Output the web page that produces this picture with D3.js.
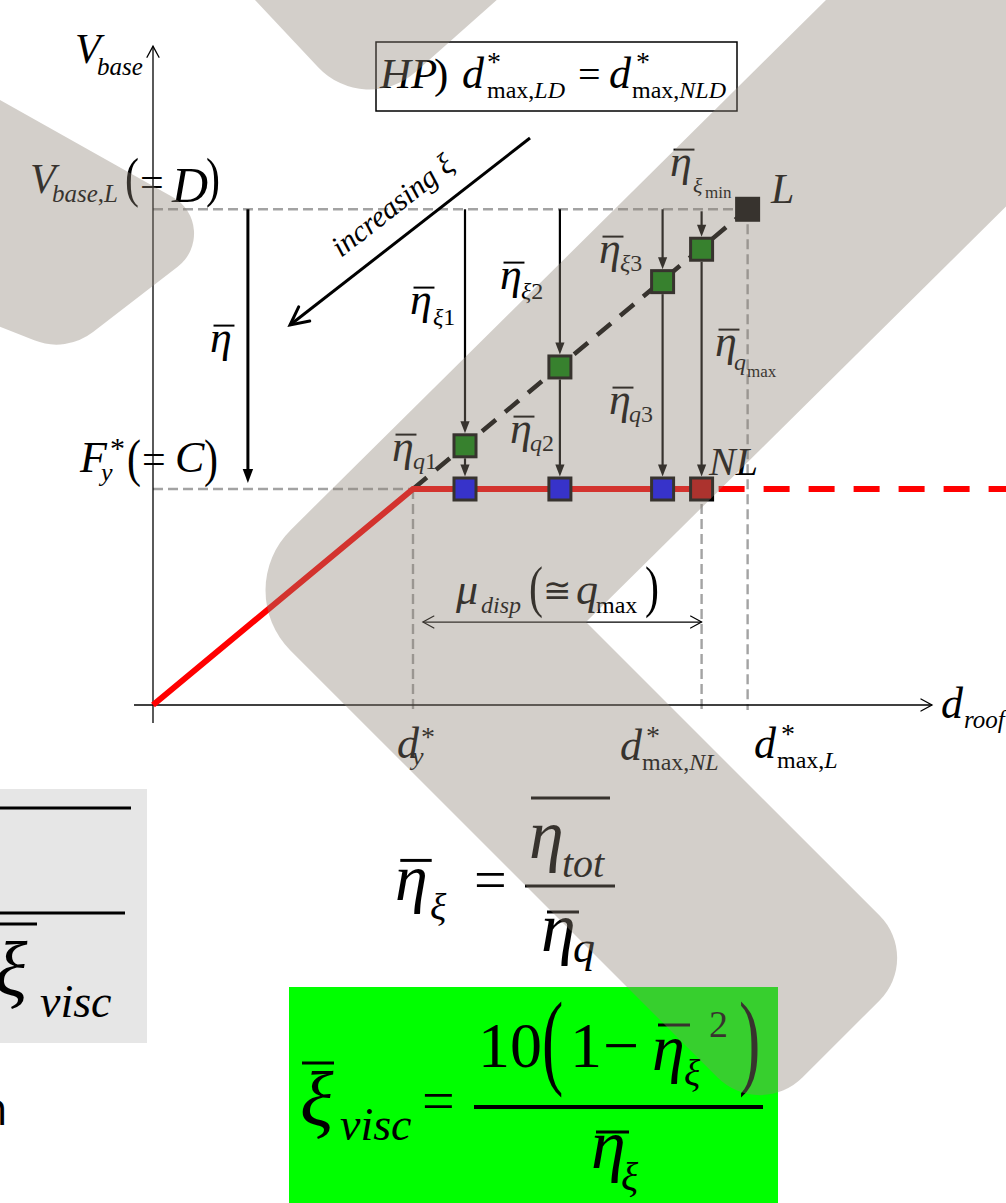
<!DOCTYPE html>
<html>
<head>
<meta charset="utf-8">
<script src="https://cdn.jsdelivr.net/npm/d3@7"></script>
<style>
  html, body { margin: 0; padding: 0; background: #fff; overflow: hidden; }
  svg { display: block; }
</style>
</head>
<body>
<svg id="fig" width="1006" height="1203"></svg>
<script>
// ---------------------------------------------------------------
// Capacity curve (displacement and base shear normalised by yield)
// ---------------------------------------------------------------
const capacityCurve = [[0, 0], [1, 1], [2.11, 1]];   // bilinear: elastic + plateau up to NL
const capacityTail  = [[2.11, 1], [3.3, 1]];          // plateau beyond NL (dashed)
const elasticBranch = [[1, 1], [2.287, 2.295]];       // elastic extension up to L (dashed)
const dampedDisp    = [1.2, 1.565, 1.96, 2.11];       // ξ1, ξ2, ξ3, ξmin points on elastic branch
const ductileDisp   = [1.2, 1.565, 1.96];             // q1, q2, q3 points on the plateau
const pointNL       = [2.11, 1];
const pointL        = [2.287, 2.295];
const etaArrowDisp  = 0.365;                          // position of the global η̄ arrow
const axisXExtent   = [-0.073, 2.996];
const axisYExtent   = [-0.083, 3.05];
const guideBottom   = -0.023;
const ductilitySpan = [1.038, 2.11];                  // μ_disp dimension line
const ductilityLevel = 0.384;
const trendArrow    = [[1.45, 2.625], [0.527, 1.759]]; // "increasing ξ" arrow

const SERIF = "'Liberation Serif','Times New Roman',serif";

const svg = d3.select("#fig");
const x = d3.scaleLinear().domain([0, 1]).range([153, 413]);
const y = d3.scaleLinear().domain([0, 1]).range([705, 489]);

// ---------------- markers ----------------
const defs = svg.append("defs");
function marker(id, d, filled, sw, orient) {
  defs.append("marker")
    .attr("id", id)
    .attr("viewBox", "-30 -15 45 30")
    .attr("refX", 0).attr("refY", 0)
    .attr("markerWidth", 45).attr("markerHeight", 30)
    .attr("markerUnits", "userSpaceOnUse")
    .attr("orient", orient || "auto")
    .append("path")
    .attr("d", d)
    .attr("fill", filled ? "#000" : "none")
    .attr("stroke", filled ? "none" : "#000")
    .attr("stroke-width", sw || 1)
    .attr("stroke-linecap", "round")
    .attr("stroke-linejoin", "miter");
}
marker("openSmall", "M-11,-6L0,0L-11,6", false, 1.3);
marker("openThin", "M-11,-6L0,0L-11,6", false, 1.2, "auto-start-reverse");
marker("openBig", "M-18,-9L0,0L-18,9", false, 3);
marker("solid", "M-6,-4.6L6,0L-6,4.6Z", true);
marker("solidBig", "M-7,-5.2L7,0L-7,5.2Z", true);

// layers: panels behind, then the diagram, then text, then the translucent backdrop
const back = svg.append("g");
const plot = svg.append("g");
const txt = svg.append("g").attr("fill", "#000");
const overlay = svg.append("g").attr("fill", "rgb(142,131,119)").attr("fill-opacity", 0.39);

const line = d3.line().x(d => x(d[0])).y(d => y(d[1]));

// ---------------- panels ----------------
back.append("rect").attr("x", 376).attr("y", 42).attr("width", 361).attr("height", 69)
  .attr("fill", "#fff").attr("stroke", "#000").attr("stroke-width", 1.5);
back.append("rect").attr("x", 0).attr("y", 789).attr("width", 147).attr("height", 254).attr("fill", "#e6e6e6");
back.append("rect").attr("x", 289).attr("y", 987).attr("width", 489).attr("height", 216).attr("fill", "#00ff00");

// ---------------- gray dashed guides ----------------
const guides = plot.append("g")
  .attr("stroke", "#a3a3a3").attr("stroke-width", 2.4)
  .attr("stroke-dasharray", "10,5").attr("fill", "none");
guides.append("path").attr("d", line([[0, pointL[1]], [pointL[0], pointL[1]]]));
guides.append("path").attr("d", line([[0, 1], [1, 1]]));
[[1, 1], pointNL, pointL].forEach(p => {
  guides.append("path").attr("d", line([[p[0], p[1]], [p[0], guideBottom]]));
});

// ---------------- axes ----------------
plot.append("line")
  .attr("x1", x(axisXExtent[0])).attr("x2", x(axisXExtent[1]))
  .attr("y1", y(0)).attr("y2", y(0))
  .attr("stroke", "#000").attr("stroke-width", 1.3)
  .attr("marker-end", "url(#openSmall)");
plot.append("line")
  .attr("x1", x(0)).attr("x2", x(0))
  .attr("y1", y(axisYExtent[0])).attr("y2", y(axisYExtent[1]))
  .attr("stroke", "#000").attr("stroke-width", 1.3)
  .attr("marker-end", "url(#openSmall)");

// ---------------- capacity curve ----------------
plot.append("path").attr("d", line(elasticBranch))
  .attr("fill", "none").attr("stroke", "#000").attr("stroke-width", 4.5)
  .attr("stroke-dasharray", "18,12");
plot.append("path").attr("d", line(capacityCurve))
  .attr("fill", "none").attr("stroke", "#ff0000").attr("stroke-width", 6)
  .attr("stroke-linejoin", "miter");
plot.append("path").attr("d", line(capacityTail))
  .attr("fill", "none").attr("stroke", "#ff0000").attr("stroke-width", 6)
  .attr("stroke-dasharray", "26,19").attr("stroke-dashoffset", 28);

// ---------------- arrows ----------------
const HALF = 12.5; // half outer size of the square markers
function vArrow(d, y1, y2, w, m) {
  const tipGap = 6;
  plot.append("line")
    .attr("x1", x(d)).attr("x2", x(d))
    .attr("y1", y1).attr("y2", y2 - tipGap)
    .attr("stroke", "#000").attr("stroke-width", w)
    .attr("marker-end", `url(#${m})`);
}
vArrow(etaArrowDisp, y(pointL[1]), y(1) - 7, 3, "solidBig");
dampedDisp.forEach((d, i) => {
  const top = i === 3 ? y(pointL[1]) + 2 : y(pointL[1]);
  vArrow(d, top, y(d) - HALF, 2.2, "solid");
});
dampedDisp.forEach(d => {
  vArrow(d, y(d) + HALF, y(1) - HALF, 2.2, "solid");
});
// ductility dimension line
plot.append("line")
  .attr("x1", x(ductilitySpan[0])).attr("x2", x(ductilitySpan[1]))
  .attr("y1", y(ductilityLevel)).attr("y2", y(ductilityLevel))
  .attr("stroke", "#000").attr("stroke-width", 1.2)
  .attr("marker-start", "url(#openThin)").attr("marker-end", "url(#openThin)");
// increasing damping arrow
plot.append("path").attr("d", line(trendArrow))
  .attr("fill", "none").attr("stroke", "#000").attr("stroke-width", 3)
  .attr("marker-end", "url(#openBig)");

// ---------------- square markers ----------------
function square(d, v, fill) {
  plot.append("rect")
    .attr("x", x(d) - 11).attr("y", y(v) - 11)
    .attr("width", 22).attr("height", 22)
    .attr("fill", fill).attr("stroke", "#000").attr("stroke-width", 3);
}
dampedDisp.forEach(d => square(d, d, "#008000"));
ductileDisp.forEach(d => square(d, 1, "#0000ff"));
square(pointNL[0], pointNL[1], "#c00000");
square(pointL[0], pointL[1], "#000");

// ---------------- math labels ----------------
// each part: t text, x (optional absolute start), y baseline, s size, up (upright),
// bar (overbar), sy (vertical stretch, used for tall parentheses)
function label(parts) {
  let cx = 0;
  parts.forEach(p => {
    if (p.x !== undefined) cx = p.x;
    const t = txt.append("text")
      .attr("font-family", p.ff || SERIF)
      .attr("font-size", p.s)
      .attr("font-style", p.up ? "normal" : "italic")
      .text(p.t);
    if (p.sy) t.attr("transform", `translate(${cx},${p.y}) scale(1,${p.sy})`);
    else t.attr("x", cx).attr("y", p.y);
    const w = t.node().getComputedTextLength();
    if (p.bar) {
      txt.append("line")
        .attr("x1", cx + p.s * 0.08).attr("x2", cx + w + p.s * 0.06)
        .attr("y1", p.y - p.s * 0.6).attr("y2", p.y - p.s * 0.6)
        .attr("stroke", "#000").attr("stroke-width", Math.max(2, p.s * 0.045));
    }
    cx += w;
  });
}
function bar(x1, x2, yy, w) {
  txt.append("line").attr("x1", x1).attr("x2", x2).attr("y1", yy).attr("y2", yy)
    .attr("stroke", "#000").attr("stroke-width", w);
}

// axis titles and reference levels
label([{t: "V", x: 75, y: 63, s: 42}, {t: "base", x: 97, y: 75, s: 25}]);
label([{t: "V", x: 30, y: 193, s: 42}, {t: "base", x: 52, y: 202, s: 25},
       {t: ",", y: 202, s: 25, up: 1}, {t: "L", y: 202, s: 25},
       {t: "(", x: 125, y: 196, s: 42, up: 1, sy: 1.32}, {t: "=", x: 140, y: 196, s: 42, up: 1},
       {t: "D", x: 172, y: 202, s: 50}, {t: ")", x: 206, y: 196, s: 42, up: 1, sy: 1.32}]);
label([{t: "F", x: 80, y: 472, s: 44}, {t: "*", x: 110, y: 458, s: 30, up: 1},
       {t: "y", x: 101, y: 481, s: 26},
       {t: "(", x: 127, y: 476, s: 42, up: 1, sy: 1.24}, {t: "=", x: 142, y: 473, s: 42, up: 1},
       {t: "C", x: 175, y: 472, s: 44}, {t: ")", x: 204, y: 476, s: 42, up: 1, sy: 1.24}]);
label([{t: "d", x: 941, y: 718, s: 44}, {t: "roof", x: 964, y: 728, s: 25}]);
label([{t: "d", x: 397, y: 758, s: 44}, {t: "*", x: 421, y: 746, s: 28, up: 1},
       {t: "y", x: 412, y: 765, s: 26}]);
label([{t: "d", x: 620, y: 760, s: 44}, {t: "*", x: 646, y: 745, s: 28, up: 1},
       {t: "max", x: 642, y: 770, s: 24, up: 1}, {t: ",", y: 770, s: 24, up: 1}, {t: "NL", y: 770, s: 24}]);
label([{t: "d", x: 754, y: 758, s: 44}, {t: "*", x: 781, y: 743, s: 28, up: 1},
       {t: "max", x: 777, y: 768, s: 24, up: 1}, {t: ",", y: 768, s: 24, up: 1}, {t: "L", y: 768, s: 24}]);

// hypothesis box text
label([{t: "HP", x: 380, y: 88, s: 43}, {t: ")", x: 434, y: 88, s: 43, up: 1},
       {t: "d", x: 462, y: 88, s: 44}, {t: "*", x: 487, y: 71, s: 28, up: 1},
       {t: "max", x: 487, y: 98, s: 24, up: 1}, {t: ",", y: 98, s: 24, up: 1}, {t: "LD", y: 98, s: 24},
       {t: "=", x: 578, y: 88, s: 40, up: 1},
       {t: "d", x: 609, y: 88, s: 44}, {t: "*", x: 636, y: 71, s: 28, up: 1},
       {t: "max", x: 632, y: 98, s: 24, up: 1}, {t: ",", y: 98, s: 24, up: 1}, {t: "NLD", y: 98, s: 24}]);

// increasing ξ
txt.append("text")
  .attr("transform", "translate(341,258) rotate(-38)")
  .attr("font-family", SERIF).attr("font-style", "italic").attr("font-size", 30)
  .text("increasing ξ");

// η̄ labels
label([{t: "η", x: 210, y: 352, s: 44, bar: 1}]);
label([{t: "η", x: 410, y: 314, s: 44, bar: 1}, {t: "ξ", x: 433, y: 325, s: 24}, {t: "1", y: 325, s: 24, up: 1}]);
label([{t: "η", x: 500, y: 289, s: 44, bar: 1}, {t: "ξ", x: 521, y: 299, s: 24}, {t: "2", y: 299, s: 24, up: 1}]);
label([{t: "η", x: 599, y: 263, s: 44, bar: 1}, {t: "ξ", x: 620, y: 271, s: 24}, {t: "3", y: 271, s: 24, up: 1}]);
label([{t: "η", x: 670, y: 176, s: 44, bar: 1}, {t: "ξ", x: 693, y: 193, s: 22}, {t: "min", x: 705, y: 198, s: 17, up: 1}]);
label([{t: "η", x: 715, y: 356, s: 44, bar: 1}, {t: "q", x: 734, y: 370, s: 24}, {t: "max", x: 747, y: 377, s: 17, up: 1}]);
label([{t: "η", x: 392, y: 461, s: 44, bar: 1}, {t: "q", x: 413, y: 469, s: 24}, {t: "1", y: 469, s: 24, up: 1}]);
label([{t: "η", x: 510, y: 443, s: 44, bar: 1}, {t: "q", x: 530, y: 451, s: 24}, {t: "2", y: 451, s: 24, up: 1}]);
label([{t: "η", x: 609, y: 414, s: 44, bar: 1}, {t: "q", x: 629, y: 422, s: 24}, {t: "3", y: 422, s: 24, up: 1}]);
label([{t: "NL", x: 709, y: 475, s: 40}]);
label([{t: "L", x: 771, y: 203, s: 42}]);

// ductility label
label([{t: "μ", x: 456, y: 604, s: 44}, {t: "disp", x: 481, y: 613, s: 24},
       {t: "(", x: 529, y: 606, s: 42, up: 1, sy: 1.34}, {t: "≅", x: 543, y: 602, s: 34, up: 1},
       {t: "q", x: 576, y: 604, s: 44}, {t: "max", x: 596, y: 613, s: 24, up: 1},
       {t: ")", x: 645, y: 606, s: 42, up: 1, sy: 1.34}]);

// ---------------- formulas ----------------
// partially visible formula panel on the left
bar(0, 131, 808, 3);
bar(0, 125, 913, 3);
bar(0, 37, 924, 3);
label([{t: "ξ", x: -6, y: 996, s: 78}, {t: "visc", x: 40, y: 1017, s: 46}]);
txt.append("text").attr("x", -20.5).attr("y", 1125)
  .attr("font-family", "'Open Sans',sans-serif").attr("font-size", 46).text("n");

// η̄ξ = η̄tot / η̄q
label([{t: "η", x: 395, y: 900, s: 66, bar: 1}, {t: "ξ", x: 430, y: 920, s: 38},
       {t: "=", x: 474, y: 899, s: 58, up: 1}]);
bar(525, 615, 886, 3);
bar(531, 610, 798, 3);
label([{t: "η", x: 529, y: 858, s: 70}, {t: "tot", x: 562, y: 877, s: 40}]);
bar(547, 579, 912, 3);
label([{t: "η", x: 541, y: 951, s: 70}, {t: "q", x: 573, y: 962, s: 44}]);

// ξ̄visc = 10(1 − η̄ξ²) / η̄ξ
bar(302, 334, 1063, 3);
label([{t: "ξ", x: 300, y: 1126, s: 78}, {t: "visc", x: 340, y: 1140, s: 46},
       {t: "=", x: 422, y: 1120, s: 58, up: 1}]);
bar(474, 763, 1107, 4);
label([{t: "10", x: 478, y: 1067, s: 64, up: 1}, {t: "(", x: 542, y: 1075, s: 64, up: 1, sy: 1.64},
       {t: "1", x: 570, y: 1067, s: 64, up: 1}, {t: "−", x: 603, y: 1067, s: 64, up: 1},
       {t: ")", x: 739, y: 1075, s: 64, up: 1, sy: 1.64}]);
bar(658, 690, 1025, 3);
label([{t: "η", x: 652, y: 1070, s: 66}, {t: "2", x: 709, y: 1037, s: 38, up: 1}, {t: "ξ", x: 684, y: 1086, s: 38}]);
bar(596, 629, 1132, 3);
label([{t: "η", x: 591, y: 1168, s: 70}, {t: "ξ", x: 621, y: 1190, s: 40}]);

// ---------------- translucent chevron backdrop (drawn over everything) ----------------
function roundedPolygon(pts, radii) {
  const p = d3.path();
  const n = pts.length;
  p.moveTo((pts[n - 1][0] + pts[0][0]) / 2, (pts[n - 1][1] + pts[0][1]) / 2);
  for (let i = 0; i < n; i++) {
    const c = pts[i], nx = pts[(i + 1) % n];
    if (radii[i] > 0) p.arcTo(c[0], c[1], nx[0], nx[1], radii[i]);
    else p.lineTo(c[0], c[1]);
  }
  p.closePath();
  return p.toString();
}
const shapes = [
  {pts: [[208, -50], [365, 117], [553, -50]], r: [0, 70, 0]},
  {pts: [[-100, 44], [228, 228], [66, 353], [-100, 287]], r: [0, 42, 60, 0]},
  {pts: [[927, -100], [230, 590], [760, 1120], [922, 958], [586, 622], [1316, -100]], r: [0, 85, 60, 60, 0, 0]}
];
shapes.forEach(s => overlay.append("path").attr("d", roundedPolygon(s.pts, s.r)));
</script>
</body>
</html>
